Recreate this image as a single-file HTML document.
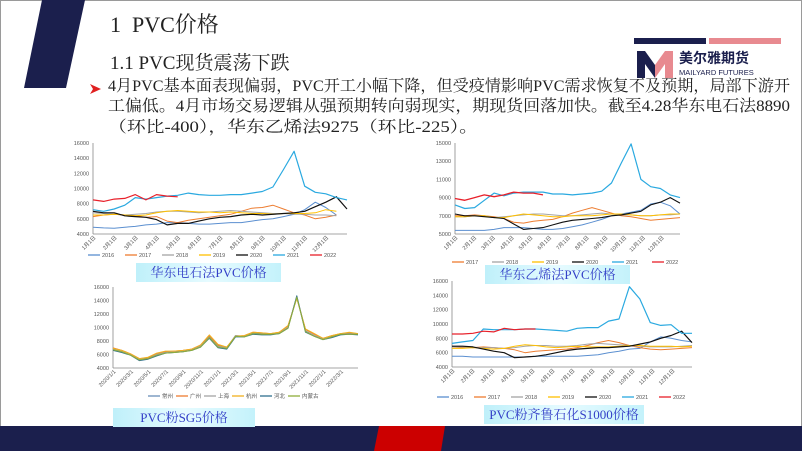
<!DOCTYPE html>
<html><head><meta charset="utf-8">
<style>
body{margin:0;width:802px;height:451px;overflow:hidden;background:#fff;position:relative;font-family:"Liberation Serif","Noto Serif CJK SC",serif;}
.abs{position:absolute}
.frame{left:0;top:0;width:800px;height:449px;border:1px solid #9a9a9a}
.tbox{background:linear-gradient(to right,#bff0fa,#e6fbff 50%,#c4f2fb);color:#3440c8;font-size:13px;text-align:center;line-height:19px;white-space:nowrap}
.line{position:absolute;left:108px;font-size:16px;color:#222;white-space:nowrap;line-height:20px;transform-origin:0 0}
svg text{font-family:"Liberation Sans","Noto Sans CJK SC",sans-serif}
</style></head><body>
<div class="abs frame"></div>
<svg class="abs" style="left:0;top:0" width="802" height="451">
 <polygon points="42,0 85,0 66,88 24,88" fill="#1b1f4d"/>
 <rect x="0" y="426" width="802" height="25" fill="#1b1f4d"/>
 <polygon points="379,426 445,426 441,451 374,451" fill="#cc0000"/>
 <g>
  <rect x="634" y="38" width="72" height="6" fill="#1b1f4d"/>
  <rect x="709" y="38" width="72" height="6" fill="#e88a90"/>
  <polygon points="637,51 645,51 655,65 655,78 645,64 645,78 637,78" fill="#1b1f4d"/>
  <polygon points="655,65 665,51 673,51 673,78 665,78 665,64 655,78" fill="#e88a90"/>
  <text x="679" y="63" font-size="14" font-weight="bold" fill="#1b1f4d">美尔雅期货</text>
  <text x="679" y="75" font-size="7.5" fill="#1b1f4d">MAILYARD FUTURES</text>
 </g>
 <polygon points="90,84 101,89 90,94 93,89" fill="#e02020"/>
</svg>
<div class="abs" style="left:110px;top:8px;font-size:22px;color:#222">1&nbsp;&nbsp;PVC价格</div>
<div class="abs" style="left:110px;top:48px;font-size:19px;color:#222">1.1 PVC现货震荡下跌</div>
<div>
<span class="line" data-w="682" style="top:77px">4月PVC基本面表现偏弱，PVC开工小幅下降，但受疫情影响PVC需求恢复不及预期，局部下游开</span>
<span class="line" data-w="682" style="top:97px">工偏低。4月市场交易逻辑从强预期转向弱现实，期现货回落加快。截至4.28华东电石法8890</span>
<span class="line" data-w="370" style="top:118px">（环比-400），华东乙烯法9275（环比-225）。</span>
</div>

<div class="abs tbox" style="left:136px;top:263px;width:145px;height:19px">华东电石法PVC价格</div>
<div class="abs tbox" style="left:485px;top:265px;width:145px;height:19px">华东乙烯法PVC价格</div>
<div class="abs tbox" style="left:113px;top:408px;width:142px;height:19px">PVC粉SG5价格</div>
<div class="abs tbox" style="left:484px;top:405px;width:160px;height:19px">PVC粉齐鲁石化S1000价格</div>

<svg id="charts" class="abs" style="left:0;top:0" width="802" height="451"></svg>

<script>
document.querySelectorAll('.line').forEach(el=>{
  const w = el.getBoundingClientRect().width;
  el.style.transform = 'scaleX(' + (parseFloat(el.dataset.w)/w) + ')';
});
// ---- Chart 1: 华东电石法
const c1Years = ["2016","2017","2018","2019","2020","2021","2022"];
const c1Ticks = [4000,6000,8000,10000,12000,14000,16000];
const c1Months = ["1月1日","2月1日","3月1日","4月1日","5月1日","6月1日","7月1日","8月1日","9月1日","10月1日","11月1日","12月1日"];
const c1y2016 = [4900,4800,4750,4900,5000,5200,5300,5500,5500,5400,5300,5300,5400,5500,5500,5700,5900,6000,6300,6600,7200,8200,7500,6500];
const c1y2017 = [6300,6500,6600,6500,6400,6200,6300,5700,5500,5800,6000,6200,6400,6600,7000,7400,7500,7800,7300,6800,6500,6000,6200,6500];
const c1y2018 = [6800,6700,6600,6500,6600,6700,6900,7000,7000,6900,6800,6900,7000,7100,7000,6900,6800,6700,6700,6600,6600,6500,6500,6400];
const c1y2019 = [6500,6500,6600,6500,6400,6500,6800,7000,7100,7000,6900,6900,6800,6900,6800,6700,6700,6600,6700,6700,6700,6800,7200,7000];
const c1y2020 = [7000,6800,6800,6400,6300,6200,5900,5200,5400,5400,5700,6000,6200,6300,6500,6600,6500,6600,6700,6800,7000,7600,8200,8900,7300];
const c1y2021 = [7200,7000,7300,7800,8800,8600,8800,9000,9100,9400,9200,9100,9100,9200,9200,9400,9600,10200,12500,14900,10300,9500,9300,8800,8500];
const c1y2022 = [8500,8300,8600,8700,9200,8500,9200,9000,8900];

// ---- Chart 2: 华东乙烯法
const c2Years = ["2016","2017","2018","2019","2020","2021","2022"];
const c2Ticks = [5000,7000,9000,11000,13000,15000];
const c2y2016 = [5400,5400,5400,5400,5500,5700,5700,5700,5600,5500,5500,5600,5800,6000,6300,6600,7000,7200,7400,7600,8300,8500,8100,7200];
const c2y2017 = [7000,7000,7100,7000,6900,6700,6300,6200,6400,6500,6600,6900,7300,7600,7900,7600,7300,7000,6900,6700,6500,6600,6700,6800];
const c2y2018 = [6900,6900,7000,7000,6800,6900,7000,7100,7200,7200,7100,7000,7000,7100,7200,7300,7200,7100,7100,7000,7000,7100,7100,7200];
const c2y2019 = [6900,6900,7000,7000,6800,6800,7000,7200,7100,7000,6900,6900,7000,7000,7000,7100,7200,7200,7100,7000,7000,7100,7200,7200];
const c2y2020 = [7200,7000,7000,6900,6800,6700,6100,5500,5600,5700,6000,6300,6500,6600,6700,6800,7000,7100,7300,7500,8200,8500,9000,8400];
const c2y2021 = [8200,7800,7900,8700,9500,9200,9500,9600,9600,9600,9400,9400,9300,9400,9500,9700,10600,12800,14900,11000,10200,10000,9300,9000];
const c2y2022 = [8900,8700,9000,9300,9100,9300,9600,9500,9500,9300];

// ---- Chart 3: PVC粉SG5
const c3Regions = ["常州","广州","上海","杭州","河北","内蒙古"];
const c3Ticks = [4000,6000,8000,10000,12000,14000,16000];
const c3Dates = ["2020/1/1","2020/3/1","2020/5/1","2020/7/1","2020/9/1","2020/11/1","2021/1/1","2021/3/1","2021/5/1","2021/7/1","2021/9/1","2021/11/1","2022/1/1","2022/3/1"];
const c3cz = [6900,6500,6000,5300,5500,6000,6300,6400,6500,6700,7300,8600,7300,7000,8800,8700,9200,9100,9000,9200,10000,14600,9500,8800,8300,8700,9000,9100,9000];
const c3gz = [7000,6600,6100,5400,5500,6100,6400,6500,6600,6800,7400,8800,7400,7100,8700,8800,9300,9200,9100,9300,10200,14400,9700,9000,8400,8800,9100,9200,9100];
const c3sh = [6800,6500,6000,5300,5400,6000,6300,6400,6500,6700,7200,8500,7200,7000,8800,8700,9100,9000,9000,9200,10000,14500,9400,8800,8300,8600,9000,9100,9000];
const c3hz = [6900,6600,6100,5400,5600,6200,6500,6500,6600,6800,7400,8900,7500,7100,8700,8800,9300,9200,9100,9300,10300,14300,9800,9100,8400,8800,9100,9300,9100];
const c3hb = [6600,6300,5900,5100,5300,5800,6200,6300,6400,6600,7100,8400,7000,6800,8600,8600,9000,8900,8900,9100,9900,14700,9300,8700,8200,8500,8900,9000,8900];
const c3nm = [6700,6400,5900,5200,5400,5900,6200,6300,6400,6600,7100,8500,7100,6900,8700,8600,9100,9000,9000,9100,9900,14500,9400,8700,8200,8600,9000,9000,9000];

// ---- Chart 4: 齐鲁石化S1000
const c4Years = ["2016","2017","2018","2019","2020","2021","2022"];
const c4Ticks = [4000,6000,8000,10000,12000,14000,16000];
const c4y2016 = [5500,5500,5400,5400,5400,5400,5400,5400,5500,5500,5500,5500,5500,5600,5700,6000,6200,6500,6600,7500,8200,8000,7700,7500];
const c4y2017 = [6800,6700,6700,6800,6700,6600,6400,6000,6200,6300,6400,6500,6700,7000,7400,7700,7400,7000,6700,6500,6400,6500,6600,6700];
const c4y2018 = [6800,6800,6700,6700,6700,6600,6700,6900,7000,7000,6900,6900,7000,7200,7300,7200,7100,7000,6900,6800,6800,6800,6900,7000];
const c4y2019 = [6600,6600,6700,6600,6500,6600,6900,7100,7000,6800,6700,6800,6900,6800,6800,6800,6900,7000,7000,6900,6900,6900,6800,6900];
const c4y2020 = [6900,6900,6800,6500,6200,6000,5300,5400,5500,5700,6000,6300,6500,6600,6700,6700,6800,6900,7200,7500,8000,8400,9000,7400];
const c4y2021 = [7300,7500,7700,9300,9200,9200,9200,9300,9300,9200,9100,9000,9400,9500,9500,10400,10700,15200,13500,10200,9800,9900,8700,8700];
const c4y2022 = [8600,8600,8700,9000,8900,9400,9200,9300,9300];

const yearColors = {"2016":"#5b8fd0","2017":"#ed7d31","2018":"#a5a5a5","2019":"#ffc000","2020":"#111111","2021":"#2aa9e0","2022":"#e8202a"};
const regionColors = ["#6a8fb8","#ed7d31","#a5a5a5","#f0b020","#2f6f8f","#8fae3a"];
const NS = "http://www.w3.org/2000/svg";
const root = document.getElementById("charts");

function mk(tag, attrs, parent){ const e=document.createElementNS(NS,tag); for(const k in attrs) e.setAttribute(k,attrs[k]); parent.appendChild(e); return e; }

function drawChart(id, box, ticks, xlabels, series, names, colors, widths, legend){
  const g = mk("g",{},root);
  
  
  const ymin=ticks[0], ymax=ticks[ticks.length-1];
  const yS = v => box.y1 + (ymax - v)/(ymax-ymin)*(box.y0-box.y1);
  const ax = mk("line",{x1:box.x0,y1:box.y0,x2:box.x1,y2:box.y0,stroke:"#888","stroke-width":0.8},g);
  
  
  const ay = mk("line",{x1:box.x0,y1:box.y1,x2:box.x0,y2:box.y0,stroke:"#888","stroke-width":0.8},g);
  
  
  ticks.forEach(t=>{
    const tx = mk("text",{x:box.x0-4,y:yS(t)+2,"font-size":5.5,fill:"#555","text-anchor":"end"},g);
    tx.textContent=t;
    
    
  });
  const n = xlabels.length;
  xlabels.forEach((l,i)=>{
    const x = box.x0 + i*(box.x1-box.x0)/n + 3;
    const tx = mk("text",{x:x,y:box.y0+4,"font-size":5.5,fill:"#555","text-anchor":"end",transform:`rotate(-45 ${x} ${box.y0+4})`},g);
    tx.textContent=l;
    
    
  });
  series.forEach((s,k)=>{
    const N = box.len;
    const xS = i => box.x0 + i/(N-1)*(box.x1-box.x0);
    const d = s.map((v,i)=>(i?"L":"M")+xS(i).toFixed(1)+","+yS(v).toFixed(1)).join("");
    const p = mk("path",{d:d,fill:"none",stroke:colors[k],"stroke-width":widths[k],"stroke-linejoin":"round"},g);
    
    
  });
  legend.names.forEach((nm,k)=>{
    const idx = names.indexOf(nm);
    const x = legend.x + k*legend.dx;
    const ln = mk("line",{x1:x,y1:legend.y,x2:x+12,y2:legend.y,stroke:colors[idx],"stroke-width":1.3},g);
    
    
    const tx = mk("text",{x:x+14,y:legend.y+2,"font-size":5.5,fill:"#555"},g);
    tx.textContent = nm;
    
    
  });
}
const yc = ys => ys.map(y=>yearColors[y]);
drawChart("chart1-carbide-pvc",{x0:93,x1:347,y0:234,y1:143,len:25},c1Ticks,c1Months,
  [c1y2016,c1y2017,c1y2018,c1y2019,c1y2020,c1y2021,c1y2022],c1Years,yc(c1Years),[1,1,1,1,1.2,1.2,1.2],
  {names:c1Years,x:88,y:255,dx:37});
drawChart("chart2-ethylene-pvc",{x0:455,x1:680,y0:234,y1:143,len:24},c2Ticks,c1Months,
  [c2y2016,c2y2017,c2y2018,c2y2019,c2y2020,c2y2021,c2y2022],c2Years,yc(c2Years),[1,1,1,1,1.1,1.2,1.3],
  {names:["2017","2018","2019","2020","2021","2022"],x:452,y:262,dx:40});
drawChart("chart3-sg5-pvc",{x0:113,x1:358,y0:368,y1:287,len:29},c3Ticks,c3Dates,
  [c3cz,c3gz,c3sh,c3hz,c3hb,c3nm],c3Regions,regionColors,[1,1,1,1,1,1],
  {names:c3Regions,x:148,y:396,dx:28});
drawChart("chart4-qilu-s1000",{x0:452,x1:692,y0:367,y1:281,len:24},c4Ticks,c1Months,
  [c4y2016,c4y2017,c4y2018,c4y2019,c4y2020,c4y2021,c4y2022],c4Years,yc(c4Years),[1,1,1,1,1.2,1.2,1.2],
  {names:c4Years,x:437,y:397,dx:37});
</script>
</body></html>
